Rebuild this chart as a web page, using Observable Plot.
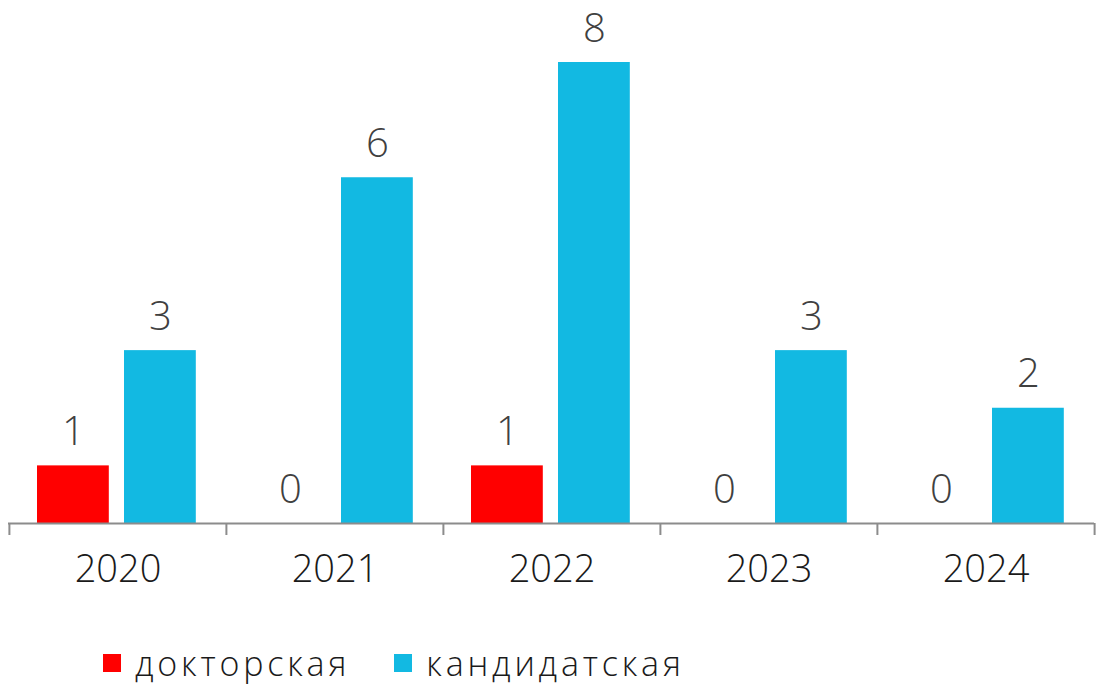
<!DOCTYPE html>
<html><head><meta charset="utf-8">
<script src="https://cdn.jsdelivr.net/npm/d3@7"></script>
<script src="https://cdn.jsdelivr.net/npm/@observablehq/plot@0.6"></script>
<style>
body{margin:0;background:#fff;font-family:"Open Sans",sans-serif;font-weight:300;}
#legend{display:flex;align-items:center;height:50px;margin-top:28px;padding-left:103px;font-size:34px;color:#1a1a1a;letter-spacing:3.8px;}
.sw{width:18px;height:18px;display:inline-block;margin-right:14px;}
.item{display:flex;align-items:center;margin-right:44px;}
</style></head><body>
<div id="chart"></div>
<div id="legend"></div>
<script>
const years = ["2020","2021","2022","2023","2024"];
const seriesNames = ["докторская","кандидатская"];
const doctoral = [1,0,1,0,0];
const candidate = [3,6,8,3,2];
const colors = ["#ff0000","#12b9e2"];

const doc = years.map((y,i)=>({year:y,value:doctoral[i]}));
const cand = years.map((y,i)=>({year:y,value:candidate[i]}));

const W = 1102, ml = 8, mr = 8;
const step = (W-ml-mr)/years.length;
const half = step/2;
const labelStyle = {x:"year",y:"value",text:d=>String(d.value),dy:-21,lineAnchor:"bottom",fontSize:40,fill:"#404040",fontWeight:300};

const chart = Plot.plot({
  width: W, height: 610,
  marginLeft: ml, marginRight: mr, marginTop: 62, marginBottom: 87,
  style:{fontFamily:"'Open Sans', sans-serif", fontWeight:300, overflow:"visible"},
  x:{domain:years, padding:0, axis:null},
  y:{domain:[0,8], axis:null},
  marks:[
    Plot.barY(doc,{x:"year",y:"value",fill:colors[0],insetLeft:28,insetRight:step-100}),
    Plot.barY(cand,{x:"year",y:"value",fill:colors[1],insetLeft:115,insetRight:step-187}),
    Plot.ruleY([0],{stroke:"#8c8c8c",strokeWidth:2}),
    Plot.ruleX(years,{x:d=>d,y1:0,y2:0,insetBottom:-12,dx:-half,stroke:"#8c8c8c",strokeWidth:2}),
    Plot.ruleX(years.slice(-1),{x:d=>d,y1:0,y2:0,insetBottom:-12,dx:half,stroke:"#8c8c8c",strokeWidth:2}),
    Plot.text(doc,{...labelStyle,dx:64-half}),
    Plot.text(cand,{...labelStyle,dx:151-half}),
    Plot.axisX({tickSize:0,tickPadding:32,fontSize:38,fill:"#1a1a1a",fontWeight:300,label:null})
  ]
});
document.getElementById("chart").appendChild(chart);

const lg = document.getElementById("legend");
seriesNames.forEach((n,i)=>{
  const it=document.createElement("div");it.className="item";
  it.innerHTML=`<span class="sw" style="background:${colors[i]}"></span><span>${n}</span>`;
  lg.appendChild(it);
});
</script></body></html>
